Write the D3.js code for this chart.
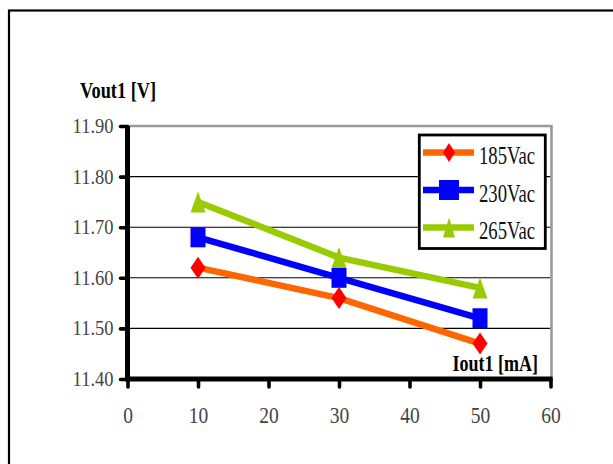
<!DOCTYPE html>
<html>
<head>
<meta charset="utf-8">
<script src="https://cdn.jsdelivr.net/npm/d3@7"></script>
<style>
  html, body { margin: 0; padding: 0; background: #fff; }
  svg { display: block; }
</style>
</head>
<body>
<svg id="chart" width="613" height="464"></svg>
<script>
// ---- data ----
const xValues = [10, 30, 50];
const seriesNames = ["185Vac", "230Vac", "265Vac"];
const v185 = [11.62, 11.56, 11.47];
const v230 = [11.68, 11.60, 11.52];
const v265 = [11.75, 11.64, 11.58];
const xTicks = [0, 10, 20, 30, 40, 50, 60];
const yTicks = [11.40, 11.50, 11.60, 11.70, 11.80, 11.90];
const yTitle = "Vout1 [V]";
const xTitle = "Iout1 [mA]";

const FONT = "'Liberation Serif', 'DejaVu Serif', serif";

const series = [
  { name: seriesNames[0], values: v185, line: "#FF6600", marker: "#FF0000", shape: "diamond" },
  { name: seriesNames[1], values: v230, line: "#0000FF", marker: "#0000FF", shape: "square" },
  { name: seriesNames[2], values: v265, line: "#99CC00", marker: "#99CC00", shape: "triangle" }
];

const svg = d3.select("#chart");

// outer frame
svg.append("rect").attr("x", 9).attr("y", 10.5).attr("width", 700).attr("height", 500)
  .attr("fill", "none").attr("stroke", "#000").attr("stroke-width", 2.2);

const x = d3.scaleLinear().domain([0, 60]).range([127.5, 550.5]);
const y = d3.scaleLinear().domain([11.4, 11.9]).range([379, 126]);

// gridlines
svg.append("g").selectAll("line").data(yTicks.filter(d => d > 11.4 && d < 11.9)).join("line")
  .attr("x1", x(0)).attr("x2", x(60)).attr("y1", d => y(d)).attr("y2", d => y(d))
  .attr("stroke", "#000").attr("stroke-width", 1.1);

// plot border top and right (gray)
svg.append("path")
  .attr("d", `M${x(0)},${y(11.9)}H${x(60) + 1}V${y(11.4)}`)
  .attr("fill", "none").attr("stroke", "#999").attr("stroke-width", 2.6);

// axes
const yAxis = d3.axisLeft(y).tickValues(yTicks).tickFormat(d3.format(".2f")).tickSize(7).tickPadding(7);
const xAxis = d3.axisBottom(x).tickValues(xTicks).tickFormat(d3.format("d")).tickSize(8);

const gy = svg.append("g").attr("transform", `translate(${x(0)},0)`).call(yAxis);
const gx = svg.append("g").attr("transform", `translate(0,${y(11.4)})`).call(xAxis);

[gy, gx].forEach(g => {
  g.attr("font-family", FONT);
  g.select(".domain").attr("stroke", "#000").attr("stroke-width", 5);
  g.selectAll(".tick line").attr("stroke", "#000").attr("stroke-width", 3.6).attr("stroke-linecap", "round");
  g.selectAll(".tick text").attr("fill", "#444");
});
gy.select(".domain").attr("d", `M0,${y(11.9)}V${y(11.4) + 2.5}`);
gx.select(".domain").attr("d", `M${x(0)},0H${x(60) + 2}`);

// y tick labels (slightly stretched vertically like the reference)
const syT = 1.1;
gy.selectAll(".tick text").attr("font-size", 18.5)
  .attr("transform", `scale(1,${syT})`);
// x tick labels
const sxT = 1.22;
gx.selectAll(".tick text").attr("font-size", 19.5)
  .attr("dy", 0).attr("y", 44 / sxT)
  .attr("transform", `scale(1,${sxT})`);

// axis titles (stretched vertically)
const sTitle = 1.3;
svg.append("text").attr("transform", `translate(80,98) scale(1,${sTitle})`).text(yTitle)
  .attr("font-family", FONT).attr("font-size", 18.3).attr("font-weight", "bold");
svg.append("text").attr("transform", `translate(538,371) scale(1,${sTitle})`)
  .attr("text-anchor", "end").text(xTitle)
  .attr("font-family", FONT).attr("font-size", 18).attr("font-weight", "bold");

// marker shapes
function markerPath(shape, w, h) {
  const hw = w / 2, hh = h / 2;
  if (shape === "diamond") return `M0,${-hh}L${hw},0L0,${hh}L${-hw},0Z`;
  if (shape === "square") return `M${-hw},${-hh}H${hw}V${hh}H${-hw}Z`;
  return `M0,${-hh}L${hw},${hh}H${-hw}Z`;
}
const markerSize = { diamond: [15, 22], square: [15, 20], triangle: [15, 21] };

// lines + markers
const line = d3.line().x((d, i) => x(xValues[i])).y(d => y(d));
series.forEach(s => {
  svg.append("path").datum(s.values).attr("d", line)
    .attr("fill", "none").attr("stroke", s.line).attr("stroke-width", 6.5);
  svg.append("g").selectAll("path").data(s.values).join("path")
    .attr("transform", (d, i) => `translate(${x(xValues[i])},${y(d)})`)
    .attr("d", markerPath(s.shape, ...markerSize[s.shape]))
    .attr("fill", s.marker);
});

// legend
const lg = svg.append("g");
lg.append("rect").attr("x", 419.3).attr("y", 135).attr("width", 126).attr("height", 113.5)
  .attr("fill", "#fff").attr("stroke", "#000").attr("stroke-width", 2.8);
const legendRows = [152.5, 190, 227.5];
const sLeg = 1.3;
series.forEach((s, i) => {
  const ry = legendRows[i];
  lg.append("line").attr("x1", 423).attr("x2", 474).attr("y1", ry).attr("y2", ry)
    .attr("stroke", s.line).attr("stroke-width", 6.5);
  const sz = s.shape === "square" ? [20, 20] : s.shape === "diamond" ? [12, 19] : [12, 20];
  lg.append("path").attr("transform", `translate(449,${ry})`)
    .attr("d", markerPath(s.shape, ...sz)).attr("fill", s.marker);
  lg.append("text").attr("transform", `translate(479,${ry + 11.5}) scale(1,${sLeg})`).text(s.name)
    .attr("font-family", FONT).attr("font-size", 18.7).attr("fill", "#111");
});
</script>
</body>
</html>
